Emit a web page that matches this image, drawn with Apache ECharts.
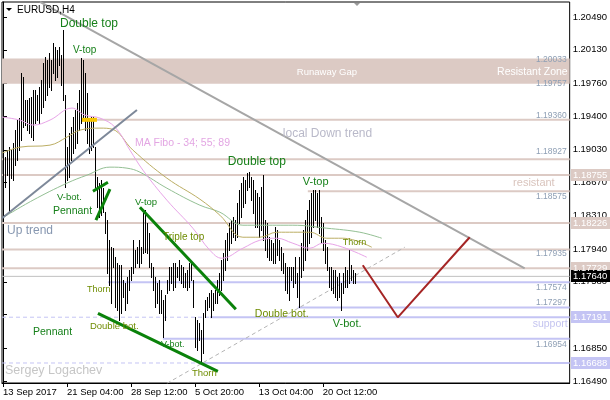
<!DOCTYPE html>
<html><head><meta charset="utf-8">
<script src="https://cdn.jsdelivr.net/npm/echarts@6/dist/echarts.min.js"></script>
<style>html,body{margin:0;padding:0;background:#fff}#c{width:610px;height:400px}</style>
</head><body><div id="c"></div>
<script>
// ---- data (EURUSD H4, bar index 0 = 13 Sep 2017 20:00) ----
const barHighs = [1.18950,1.18950,1.19027,1.19060,1.19027,1.19104,1.19247,1.19357,1.19379,1.19874,
1.19830,1.19577,1.19577,1.19599,1.19610,1.19687,1.19687,1.19632,1.19720,1.19797,
1.19984,1.20050,1.20017,1.20094,1.20017,1.20204,1.20160,1.20127,1.20160,1.20072,
1.20347,1.19632,1.19060,1.19214,1.19280,1.19390,1.19467,1.19544,1.19687,1.20039,
1.20017,1.19874,1.19654,1.19357,1.19390,1.19390,1.19060,1.18730,1.18664,1.18697,
1.18609,1.18345,1.18257,1.18037,1.17960,1.17949,1.17850,1.17784,1.17762,1.17762,
1.17597,1.17564,1.17630,1.17707,1.17740,1.18037,1.17927,1.17960,1.18037,1.17960,
1.18334,1.18367,1.18224,1.18114,1.17784,1.17740,1.17630,1.17564,1.17597,1.17487,
1.17377,1.17432,1.17597,1.17740,1.17740,1.17784,1.17784,1.17740,1.17817,1.17762,
1.17740,1.17674,1.17707,1.17784,1.17784,1.17597,1.17190,1.17157,1.17124,1.17047,
1.17234,1.17377,1.17410,1.17454,1.17487,1.17454,1.17487,1.17597,1.17674,1.17817,
1.17894,1.18037,1.18114,1.18224,1.18257,1.18290,1.18257,1.18444,1.18587,1.18664,
1.18730,1.18697,1.18774,1.18785,1.18730,1.18697,1.18587,1.18554,1.18510,1.18620,
1.18752,1.18257,1.18224,1.18070,1.18037,1.18004,1.18180,1.18147,1.18037,1.17960,
1.17894,1.17784,1.17740,1.17740,1.17740,1.17740,1.17850,1.17674,1.17850,1.18004,
1.18147,1.18257,1.18367,1.18477,1.18554,1.18587,1.18587,1.18554,1.18587,1.18290,
1.18224,1.18037,1.17960,1.17740,1.17740,1.17707,1.17707,1.17630,1.17674,1.17564,
1.17674,1.17740,1.17707,1.17927,1.17762,1.17707,1.17674];
const barLows = [1.18697,1.18620,1.18752,1.18345,1.18719,1.18697,1.18862,1.18917,1.19027,1.19137,
1.19280,1.19302,1.19247,1.19214,1.19170,1.19137,1.19324,1.19357,1.19324,1.19434,
1.19500,1.19577,1.19632,1.19720,1.19687,1.19874,1.19797,1.19830,1.19962,1.19742,
1.19577,1.18620,1.18697,1.18730,1.18917,1.18994,1.19049,1.19104,1.19247,1.19324,
1.19390,1.19247,1.19104,1.18994,1.19027,1.19060,1.18620,1.18400,1.18290,1.18312,
1.18345,1.18114,1.17674,1.17542,1.17344,1.17740,1.17300,1.17267,1.17157,1.17234,
1.17410,1.17267,1.17344,1.17487,1.17597,1.17674,1.17740,1.17784,1.17740,1.17784,
1.17894,1.17905,1.17894,1.17740,1.17630,1.17487,1.17300,1.17344,1.17234,1.17234,
1.16970,1.17157,1.17454,1.17487,1.17564,1.17487,1.17520,1.17630,1.17597,1.17564,
1.17520,1.17520,1.17487,1.17520,1.17597,1.17300,1.16860,1.16827,1.16937,1.16695,
1.16794,1.17190,1.17267,1.17300,1.17190,1.17267,1.17344,1.17344,1.17432,1.17487,
1.17597,1.17707,1.17817,1.17927,1.18004,1.18070,1.18037,1.18070,1.18224,1.18290,
1.18400,1.18444,1.18587,1.18620,1.18477,1.18334,1.18180,1.18180,1.18070,1.18147,
1.18037,1.17927,1.17850,1.17817,1.17817,1.17784,1.17784,1.17872,1.17817,1.17707,
1.17674,1.17487,1.17454,1.17377,1.17597,1.17520,1.17564,1.17410,1.17300,1.17630,
1.17707,1.17817,1.17927,1.18004,1.18070,1.18180,1.18257,1.18180,1.18114,1.18004,
1.17927,1.17784,1.17707,1.17520,1.17487,1.17454,1.17410,1.17377,1.17410,1.17267,
1.17454,1.17520,1.17520,1.17564,1.17597,1.17564,1.17564];
const lastClose = 1.17640;

// moving averages (34 / 55 / 89), sampled [barIndex, price]
const ma34 = [[-0.5,1.19390],[8.5,1.19357],[15,1.19302],[23.5,1.19357],[34.5,1.19489],[41,1.19412],[48.5,1.19379],[56,1.19280],[63.5,1.19027],[70,1.18807],[82,1.18477],[95,1.18169],[103.5,1.17927],[109.5,1.17839],[120,1.17949],[128.5,1.18037],[137,1.18059],[145,1.18004],[153.5,1.17949],[160,1.18004],[170,1.17960],[182,1.17850]];
const ma55 = [[-0.5,1.18994],[8.5,1.19060],[23.5,1.19082],[32,1.19170],[38.5,1.19247],[48.5,1.19269],[54.5,1.19258],[65,1.19027],[82,1.18719],[98.5,1.18488],[108.5,1.18312],[120,1.18070],[128.5,1.18070],[137,1.18125],[153.5,1.18125],[162,1.18059],[170,1.18059],[184.5,1.17960]];
const ma89 = [[-0.5,1.18279],[15,1.18477],[32,1.18664],[42,1.18752],[53.5,1.18840],[62,1.18829],[68.5,1.18785],[82,1.18609],[98.5,1.18422],[108.5,1.18345],[120,1.18202],[128.5,1.18202],[145,1.18202],[162,1.18169],[178.5,1.18125],[189.5,1.18059]];

// axis ticks
const xTickIdx = [0,32,64,96,128,160];
const xTickLabels = ['13 Sep 2017','21 Sep 04:00','28 Sep 12:00','5 Oct 20:00','13 Oct 04:00','20 Oct 12:00'];
const yTicks = [1.16490,1.16850,1.17220,1.17580,1.17940,1.18310,1.18670,1.19030,1.19400,1.19760,1.20130,1.20490];

// levels
const resistZone = [1.19757,1.20033];
const roseLevels = [[1.19360,47],[1.18927,-0.5],[1.18755,-0.5],[1.18575,152.5],[1.18226,-0.5],[1.17935,-0.5],[1.17729,-0.5]];
const blueLevels = [[1.17574,52.5],[1.17297,147.5],[1.17191,103.5],[1.16954,80],[1.16688,97.5]];
const blueDashed = [[1.17191,103.5],[1.16688,97.5]];
const priceTags = [1.20033,1.19757,1.19360,1.18927,1.18575,1.17935,1.17574,1.17297,1.16954];
const priceTagAt = [1.20017,1.19753,1.19401,1.19005,1.18521,1.17894,1.17520,1.17355,1.16893];
const axisBoxes = [[1.18755,'rose'],[1.18226,'rose'],[1.17729,'rose'],[1.17640,'black'],[1.17191,'blue'],[1.16688,'blue']];

// trend lines [[i,p],[i,p]]
const downTrend = [[18.5,1.20655],[261,1.17729]];
const upTrend = [[-0.5,1.18279],[67,1.19467]];
const supportTrend = [[82,1.16464],[201,1.17960]];
const forecast = [[180,1.17762],[197.5,1.17190],[233.5,1.18070]];
const greenLines = [
  [[45,1.18576],[52.5,1.18675]],
  [[46.5,1.18257],[53.5,1.18598]],
  [[68.5,1.18400],[116.5,1.17278]],
  [[47.5,1.17234],[107.5,1.16596]]
];
const goldMark = [[39.5,1.19360],[47,1.19360]];

// ---- chart ----
const XMAX = 283.5;
const FONT = '"Liberation Sans", Arial, sans-serif';
const ROSE = '#dccac4', BLUE = '#c4c4f4';
const chart = echarts.init(document.getElementById('c'));

function seg(data, color, width, type, z) {
  return {type:'line', data, symbol:'none', silent:true, animation:false, z:z||1,
    lineStyle:{color, width, type:type||'solid'}};
}
const series = [];
series.push(Object.assign(seg([], ROSE, 1, 'solid', 0), {
  markArea:{silent:true, itemStyle:{color:ROSE}, data:[[{yAxis:resistZone[1]},{yAxis:resistZone[0]}]]}
}));
roseLevels.forEach(([p,from]) => series.push(seg([[from,p],[XMAX,p]], ROSE, 2)));
blueLevels.forEach(([p,from]) => series.push(seg([[from,p],[XMAX,p]], BLUE, 2)));
blueDashed.forEach(([p,to]) => series.push(seg([[-0.5,p],[to,p]], BLUE, 1, [4,3])));
series.push(seg([[-0.5,lastClose],[XMAX,lastClose]], '#c0c0c0', 1));
series.push(seg(supportTrend, '#b4b4b4', 1, [4,3], 2));
// bars
series.push({
  type:'custom', z:3, animation:false, silent:true,
  data: barHighs.map((h,i)=>[i, barLows[i], h]),
  encode:{x:0, y:[1,2]},
  renderItem:(params, api) => {
    const a = api.coord([api.value(0), api.value(2)]);
    const b = api.coord([api.value(0), api.value(1)]);
    const px = Math.round(a[0]) + 0.5;
    return {type:'line', shape:{x1:px, y1:Math.round(a[1]), x2:px, y2:Math.round(b[1])+1},
      style:{stroke:'#000', lineWidth:1}};
  }
});
function ma(data, color) { return {type:'line', data, smooth:0.4, symbol:'none', silent:true, animation:false, z:4, lineStyle:{color, width:1}}; }
series.push(ma(ma89, '#94c094'));
series.push(ma(ma55, '#bcae64'));
series.push(ma(ma34, '#e8a4e8'));
series.push(seg(downTrend, '#a6a6a6', 2, 'solid', 5));
series.push(seg(upTrend, '#7d8899', 2, 'solid', 5));
series.push(seg(forecast, '#a52525', 2, 'solid', 5));
greenLines.forEach(l => series.push(seg(l, '#0a820a', 3, 'solid', 5)));
series.push(seg(goldMark, '#f7c600', 4, 'solid', 5));

const labelMap = {};
xTickIdx.forEach((v,k)=>labelMap[v]=xTickLabels[k]);

chart.setOption({
  animation:false,
  backgroundColor:'#fff',
  grid:{left:2, right:40, top:2, bottom:17, show:true, borderColor:'#000', borderWidth:1, backgroundColor:'transparent'},
  xAxis:{type:'value', min:-0.5, max:XMAX,
    axisLine:{onZero:false, lineStyle:{color:'#000', width:1}},
    axisTick:{customValues:xTickIdx, length:4, lineStyle:{color:'#000'}},
    axisLabel:{customValues:xTickIdx, formatter:v=>labelMap[v]||'', align:'left', margin:4,
      color:'#000', fontSize:9.5, fontFamily:FONT},
    splitLine:{show:false}},
  yAxis:{type:'value', position:'right', min:1.164681, max:1.206548, scale:true,
    axisLine:{show:true, lineStyle:{color:'#000', width:1}},
    axisTick:{show:true, customValues:yTicks, length:4, lineStyle:{color:'#000'}},
    axisLabel:{customValues:yTicks, formatter:v=>v.toFixed(5), margin:3,
      color:'#000', fontSize:9.5, fontFamily:FONT},
    splitLine:{show:false}},
  series
});

// ---- annotations (data coordinates: bar index, price) ----
const GREEN = '#17801a', OLIVE = '#6e8c00';
const notes = [
  ['Double top', 28.5, 1.20413, 12, GREEN, 'left'],
  ['V-top', 35, 1.20127, 10, GREEN, 'left'],
  ['MA Fibo - 34; 55; 89', 66, 1.19104, 10.5, '#e3a6e3', 'left'],
  ['local Down trend', 140, 1.19203, 12, '#b9b9c9', 'left'],
  ['Runaway Gap', 147, 1.19885, 9.5, '#ffffff', 'left'],
  ['Resistant Zone', 282.5, 1.19885, 10.5, '#ffffff', 'right'],
  ['Double top', 112.5, 1.18895, 12, GREEN, 'left'],
  ['V-top', 150, 1.18675, 11, GREEN, 'left'],
  ['resistant', 276, 1.18664, 11, '#d9c4bd', 'right'],
  ['Thorn', 170, 1.18015, 9, OLIVE, 'left'],
  ['Up trend', 2, 1.18147, 12, '#8797b0', 'left'],
  ['V-bot.', 27, 1.18510, 9.5, GREEN, 'left'],
  ['Pennant', 25, 1.18356, 10.5, GREEN, 'left'],
  ['V-top', 66, 1.18455, 9.5, GREEN, 'left'],
  ['Triple top', 80, 1.18070, 10, OLIVE, 'left'],
  ['Thorn', 42, 1.17498, 9, OLIVE, 'left'],
  ['Pennant', 15, 1.17025, 10.5, GREEN, 'left'],
  ['Double bot.', 43.5, 1.17091, 9.5, OLIVE, 'left'],
  ['V-bot.', 79, 1.16893, 9, GREEN, 'left'],
  ['Thorn', 94.5, 1.16574, 9.5, OLIVE, 'left'],
  ['Double bot.', 126, 1.17223, 10.5, OLIVE, 'left'],
  ['V-bot.', 165, 1.17113, 11, GREEN, 'left'],
  ['Sergey Logachev', 1, 1.16607, 12.5, '#c6c6c6', 'left'],
  ['support', 282.5, 1.17113, 10.5, '#c4c4f0', 'right']
];
const g = [];
notes.forEach(([t,i,p,fs,col,al]) => {
  const [x,y] = chart.convertToPixel({gridIndex:0}, [i,p]);
  g.push({type:'text', x, y, z:100, silent:true,
    style:{text:t, fill:col, font:fs+'px '+FONT, align:al, verticalAlign:'middle'}});
});
priceTags.forEach((v,k) => {
  const [x,y] = chart.convertToPixel({gridIndex:0}, [282, priceTagAt[k]]);
  g.push({type:'text', x, y, z:100, silent:true,
    style:{text:v.toFixed(5), fill:'#8e9fb4', font:'8.5px '+FONT, align:'right', verticalAlign:'middle'}});
});
const boxCol = {rose:ROSE, blue:BLUE, black:'#000'};
axisBoxes.forEach(([v,c]) => {
  const y = chart.convertToPixel({yAxisIndex:0}, v);
  g.push({type:'rect', z:110, silent:true, shape:{x:571, y:Math.round(y)-6, width:39, height:12}, style:{fill:boxCol[c]}});
  g.push({type:'text', z:111, silent:true, x:573, y:Math.round(y),
    style:{text:v.toFixed(5), fill:'#fff', font:'9.5px '+FONT, align:'left', verticalAlign:'middle'}});
});
// header
g.push({type:'polygon', z:100, silent:true, shape:{points:[[6,8],[12,8],[9,11]]}, style:{fill:'#000'}});
g.push({type:'text', z:100, silent:true, x:17, y:10, style:{text:'EURUSD,H4', fill:'#000', font:'10px '+FONT, align:'left', verticalAlign:'middle'}});
g.push({type:'polygon', z:100, silent:true, shape:{points:[[354,3],[360,3],[357,6]]}, style:{fill:'#9a9a9a'}});
chart.setOption({graphic:g});
</script></body></html>
